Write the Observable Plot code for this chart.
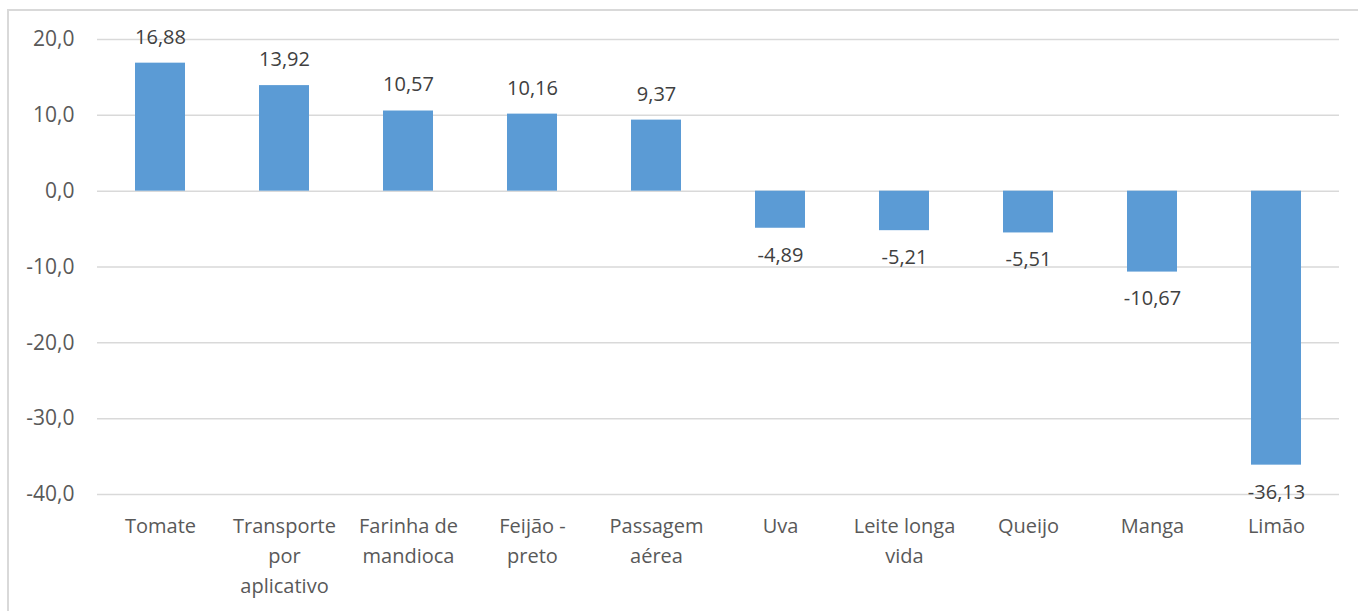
<!DOCTYPE html>
<html>
<head>
<meta charset="utf-8">
<script src="https://cdn.jsdelivr.net/npm/d3@7"></script>
<script src="https://cdn.jsdelivr.net/npm/@observablehq/plot@0.6"></script>
<style>
  html, body { margin: 0; padding: 0; background: #fff; overflow: hidden; }
  #wrap { position: relative; width: 1358px; height: 611px; }
  #border { position: absolute; left: 7px; top: 9px; width: 1400px; height: 700px; border: 2px solid #d9d9d9; box-sizing: border-box; }
  #chart { position: absolute; left: 0; top: 0; }
</style>
</head>
<body>
<div id="wrap"><div id="border"></div><div id="chart"></div></div>
<script>
const categories = ["Tomate", "Transporte por aplicativo", "Farinha de mandioca", "Feijão - preto", "Passagem aérea", "Uva", "Leite longa vida", "Queijo", "Manga", "Limão"];
const categoryLabels = ["Tomate", "Transporte\npor\naplicativo", "Farinha de\nmandioca", "Feijão -\npreto", "Passagem\naérea", "Uva", "Leite longa\nvida", "Queijo", "Manga", "Limão"];
const values = [16.88, 13.92, 10.57, 10.16, 9.37, -4.89, -5.21, -5.51, -10.67, -36.13];
const yTicks = [20, 10, 0, -10, -20, -30, -40];

const data = categories.map((c, i) => ({cat: c, label: categoryLabels[i], value: values[i]}));
const fmt = v => v.toFixed(2).replace(".", ",");
const fmtTick = v => v.toFixed(1).replace(".", ",");
const labelOf = new Map(data.map(d => [d.cat, d.label]));

const chart = Plot.plot({
  width: 1358,
  height: 611,
  marginLeft: 97,
  marginRight: 19,
  marginTop: 39,
  marginBottom: 117,
  style: {fontFamily: "'Open Sans', sans-serif", fontSize: "20px", color: "#595959", background: "transparent"},
  x: {domain: categories, paddingInner: 0.6, paddingOuter: 0.3, label: null},
  y: {domain: [-40, 20], label: null},
  marks: [
    Plot.ruleY(yTicks, {stroke: "#d9d9d9", strokeWidth: 1.5}),
    Plot.barY(data, {x: "cat", y: "value", fill: "#5b9bd5"}),
    Plot.text(data.filter(d => d.value >= 0), {x: "cat", y: "value", text: d => fmt(d.value), dy: -26, fill: "#404040", fontSize: 20}),
    Plot.text(data.filter(d => d.value < 0), {x: "cat", y: "value", text: d => fmt(d.value), dy: 27, fill: "#404040", fontSize: 20}),
    Plot.axisY({ticks: yTicks, tickSize: 0, tickPadding: 23, tickFormat: fmtTick, fill: "#595959", fontSize: 21}),
    Plot.axisX({tickSize: 0, tickPadding: 17, tickFormat: c => labelOf.get(c), fill: "#595959", fontSize: 20, lineHeight: 1.5, lineAnchor: "top"})
  ]
});
document.getElementById("chart").appendChild(chart);
</script>
</body>
</html>
